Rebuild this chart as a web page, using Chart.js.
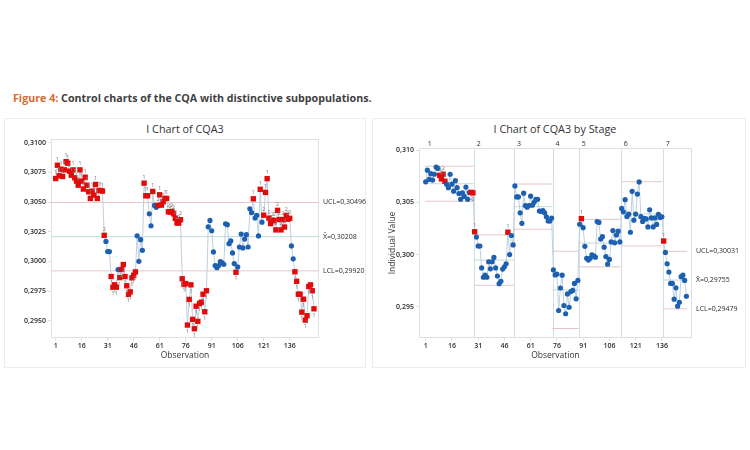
<!DOCTYPE html>
<html>
<head>
<meta charset="utf-8">
<script src="https://cdn.jsdelivr.net/npm/chart.js@4.4.1/dist/chart.umd.min.js"></script>
<style>
  html, body { margin: 0; padding: 0; background: #fff; }
  body { width: 750px; height: 450px; position: relative; overflow: hidden; font-family: 'Open Sans', sans-serif; }
  .caption { position: absolute; left: 13px; top: 91px; font-size: 10.7px; line-height: 14px; font-weight: bold; color: #3f3f3f; white-space: nowrap; }
  .caption span { color: #d8692f; }
  .panel { position: absolute; top: 118px; height: 250px; border: 1px solid #ededed; box-sizing: border-box; }
  .chart-title { position: absolute; top: 122px; width: 220px; font-size: 10.8px; line-height: 14px; color: #333; text-align: center; white-space: nowrap; }
  .box { position: absolute; top: 112px; height: 258px; }
</style>
</head>
<body>
<div class="caption"><span>Figure 4:</span> Control charts of the CQA with distinctive subpopulations.</div>
<div class="panel" style="left:4px;width:362px"></div>
<div class="panel" style="left:372px;width:374px"></div>
<div class="chart-title" style="left:75px">I Chart of CQA3</div>
<div class="chart-title" style="left:445px">I Chart of CQA3 by Stage</div>
<div class="box" style="left:0;width:372px"><canvas id="chartAll"></canvas></div>
<div class="box" style="left:372px;width:378px"><canvas id="chartStage"></canvas></div>

<script>
  'use strict';

  // ---- dữ liệu ----
  var stage1 = [0.30698, 0.30810, 0.30721, 0.30777, 0.30715, 0.30771, 0.30840, 0.30827, 0.30760, 0.30726,
                0.30771, 0.30704, 0.30676, 0.30642, 0.30771, 0.30676, 0.30609, 0.30709, 0.30642, 0.30586,
                0.30530, 0.30592, 0.30558, 0.30648, 0.30530, 0.30597, 0.30597, 0.30592];
  var stage2 = [0.30219, 0.30168, 0.30082, 0.30082, 0.29872, 0.29782, 0.29802, 0.29782, 0.29931, 0.29863,
                0.29931, 0.29973, 0.29872, 0.29794, 0.29721, 0.29743, 0.29861, 0.29883, 0.29911, 0.30215,
                0.30000, 0.30183, 0.30093];
  var stage3 = [0.30659, 0.30553, 0.30553, 0.30401, 0.30300, 0.30589, 0.30471, 0.30455, 0.30471, 0.30561,
                0.30474, 0.30502, 0.30530, 0.30530, 0.30418, 0.30415, 0.30421, 0.30401, 0.30362, 0.30323,
                0.30323, 0.30351];
  var stage4 = [0.29853, 0.29805, 0.29813, 0.29463, 0.29679, 0.29802, 0.29511, 0.29432, 0.29622, 0.29494,
                0.29645, 0.29656, 0.29723, 0.29575, 0.29752];
  var stage5 = [0.30291, 0.30345, 0.30258, 0.30079, 0.29964, 0.29947, 0.29964, 0.29998, 0.29987, 0.29975,
                0.30317, 0.30309, 0.30149, 0.30172, 0.30071, 0.29981, 0.29908, 0.29953, 0.30121, 0.30230,
                0.30113, 0.30188, 0.30225, 0.30121];
  var stage6 = [0.30443, 0.30410, 0.30527, 0.30365, 0.30388, 0.30214, 0.30607, 0.30330, 0.30389, 0.30581,
                0.30697, 0.30364, 0.30318, 0.30348, 0.30342, 0.30265, 0.30430, 0.30352, 0.30265, 0.30352,
                0.30289, 0.30387, 0.30355, 0.30363];
  var stage7 = [0.30130, 0.30021, 0.29912, 0.29832, 0.29723, 0.29723, 0.29572, 0.29681, 0.29505, 0.29542,
                0.29788, 0.29802, 0.29752, 0.29600];

  var stageNames = ['1', '2', '3', '4', '5', '6', '7'];
  var stageUcl  = [0.30848, 0.30189, 0.30677, 0.30032, 0.30338, 0.30699, 0.30031];
  var stageMean = [0.30680, 0.29947, 0.30460, 0.29661, 0.30110, 0.30391, 0.29755];
  var stageLcl  = [0.30512, 0.29705, 0.30243, 0.29290, 0.29882, 0.30083, 0.29479];

  var allUcl = 0.30496;
  var allMean = 0.30208;
  var allLcl = 0.29920;

  var xTicks = [1, 16, 31, 46, 61, 76, 91, 106, 121, 136];
  var yTicksAll = [0.2950, 0.2975, 0.3000, 0.3025, 0.3050, 0.3075, 0.3100];
  var yTicksStage = [0.295, 0.300, 0.305, 0.310];

  // ---- ghép chuỗi ----
  var stages = [stage1, stage2, stage3, stage4, stage5, stage6, stage7];
  var values = [];
  var stageOf = [];
  var stageStart = [];
  stages.forEach(function (s, k) {
    stageStart.push(values.length + 1);
    s.forEach(function (v) { values.push(v); stageOf.push(k); });
  });

  var RED = '#e00b0b';
  var BLUE = '#1d5fb0';
  var LINK = '#b6cbdd';
  var LIMIT = '#e6c6c9';
  var CENTER = '#bfdcd8';
  var FRAME = '#dbe1e7';
  var TEXT = '#2b2b2b';

  function comma(v, d) { return v.toFixed(d).replace('.', ','); }

  // Test 1: ngoài giới hạn; Test 2: 9 điểm liên tiếp cùng phía đường tâm
  function runTests(ucl, mean, lcl, group) {
    var flags = [];
    var run = 0, side = 0;
    values.forEach(function (v, i) {
      var s = v > mean[i] ? 1 : (v < mean[i] ? -1 : 0);
      if (i > 0 && group[i] !== group[i - 1]) { run = 0; side = 0; }
      run = (s !== 0 && s === side) ? run + 1 : 1;
      side = s;
      if (v > ucl[i] || v < lcl[i]) flags.push('1');
      else if (run >= 9) flags.push('2');
      else flags.push('');
    });
    return flags;
  }

  var ones = values.map(function () { return 0; });
  var allFlags = runTests(values.map(function () { return allUcl; }),
                          values.map(function () { return allMean; }),
                          values.map(function () { return allLcl; }), ones);
  var stageFlags = runTests(stageOf.map(function (k) { return stageUcl[k]; }),
                            stageOf.map(function (k) { return stageMean[k]; }),
                            stageOf.map(function (k) { return stageLcl[k]; }), stageOf);

  var points = values.map(function (v, i) { return { x: i + 1, y: v }; });

  function seriesDataset(flags) {
    return {
      data: points,
      showLine: true,
      borderColor: LINK,
      borderWidth: 0.9,
      pointStyle: function (c) { return flags[c.dataIndex] ? 'rect' : 'circle'; },
      pointRadius: function (c) { return flags[c.dataIndex] ? 3.8 : 2.6; },
      pointBackgroundColor: function (c) { return flags[c.dataIndex] ? RED : BLUE; },
      pointBorderWidth: 0,
      pointHoverRadius: 0,
      order: 0
    };
  }

  function flatLine(y, x0, x1, color) {
    return {
      data: [{ x: x0, y: y }, { x: x1, y: y }],
      showLine: true, borderColor: color, borderWidth: 1,
      pointRadius: 0, order: 2
    };
  }

  function stageLine(limits, color) {
    var data = [];
    stages.forEach(function (s, k) {
      var a = stageStart[k] - 0.5;
      var b = stageStart[k] + s.length - 0.5;
      data.push({ x: a, y: limits[k] }, { x: b, y: limits[k] }, { x: b, y: null });
    });
    return { data: data, showLine: true, spanGaps: false, borderColor: color, borderWidth: 1, pointRadius: 0, order: 2 };
  }

  function axisX(min, max) {
    return {
      type: 'linear', min: min, max: max,
      afterBuildTicks: function (scale) { scale.ticks = xTicks.map(function (v) { return { value: v }; }); },
      afterFit: function (scale) { scale.height = 28; },
      grid: { drawOnChartArea: false, drawTicks: true, tickLength: 3, color: FRAME },
      border: { display: false },
      ticks: { color: TEXT, padding: 1, maxRotation: 0, font: { size: 7, weight: '600' } },
      title: { display: true, text: 'Observation', color: '#333', font: { size: 8.5 }, padding: { top: 0, bottom: 5 } }
    };
  }

  function axisY(min, max, ticks, digits, width, title) {
    return {
      type: 'linear', min: min, max: max,
      afterBuildTicks: function (scale) { scale.ticks = ticks.map(function (v) { return { value: v }; }); },
      afterFit: function (scale) { scale.width = width; },
      grid: { drawOnChartArea: false, drawTicks: true, tickLength: 3, color: FRAME },
      border: { display: false },
      ticks: {
        color: TEXT, padding: 2, font: { size: 7, weight: '600' },
        callback: function (v) { return comma(v, digits); }
      },
      title: title ? { display: true, text: title, color: '#333', font: { size: 8.5 }, padding: { top: 11, bottom: 0 } } : { display: false }
    };
  }

  // khung, nhãn giới hạn, nhãn test, giai đoạn
  function extrasPlugin(flags, centerOf, limitLabels, withStages) {
    return {
      id: 'extras',
      beforeDatasetsDraw: function (chart) {
        var a = chart.chartArea, ctx = chart.ctx, xs = chart.scales.x;
        ctx.save();
        ctx.strokeStyle = FRAME;
        ctx.lineWidth = 1;
        ctx.strokeRect(a.left + 0.5, a.top + 0.5, a.right - a.left - 1, a.bottom - a.top - 1);
        if (withStages) {
          ctx.strokeStyle = '#d3dee8';
          stageStart.slice(1).forEach(function (s) {
            var px = Math.round(xs.getPixelForValue(s - 0.5)) + 0.5;
            ctx.beginPath(); ctx.moveTo(px, a.top); ctx.lineTo(px, a.bottom); ctx.stroke();
          });
        }
        ctx.restore();
      },
      afterDatasetsDraw: function (chart) {
        var meta = chart.getDatasetMeta(0), ctx = chart.ctx;
        ctx.save();
        ctx.font = '6px "Open Sans"';
        ctx.fillStyle = '#858585';
        ctx.textAlign = 'center';
        meta.data.forEach(function (pt, i) {
          if (!flags[i]) return;
          var above = values[i] >= centerOf(i);
          ctx.textBaseline = above ? 'bottom' : 'top';
          ctx.fillText(flags[i], pt.x, above ? pt.y - 3.2 : pt.y + 3.2);
        });
        ctx.restore();
      },
      afterDraw: function (chart) {
        var a = chart.chartArea, ctx = chart.ctx, ys = chart.scales.y, xs = chart.scales.x;
        ctx.save();
        ctx.fillStyle = TEXT;
        ctx.font = '7px "Open Sans"';
        ctx.textAlign = 'left';
        ctx.textBaseline = 'middle';
        limitLabels.forEach(function (l) {
          ctx.fillText(l.text, a.right + 4, ys.getPixelForValue(l.value));
        });
        if (withStages) {
          ctx.textBaseline = 'bottom';
          stageStart.forEach(function (s, k) {
            ctx.fillText(stageNames[k], xs.getPixelForValue(s - 0.5) + 3, a.top - 1);
          });
        }
        ctx.restore();
      }
    };
  }

  Chart.defaults.font.family = "'Open Sans', sans-serif";

  // ---- biểu đồ trái ----
  new Chart(document.getElementById('chartAll').getContext('2d'), {
    type: 'scatter',
    data: {
      datasets: [
        seriesDataset(allFlags),
        flatLine(allUcl, -1.7, 152.9, LIMIT),
        flatLine(allMean, -1.7, 152.9, CENTER),
        flatLine(allLcl, -1.7, 152.9, LIMIT)
      ]
    },
    options: {
      responsive: true,
      maintainAspectRatio: false,
      animation: false,
      layout: { padding: { left: 4, right: 53, top: 27, bottom: 4 } },
      plugins: { legend: { display: false }, tooltip: { enabled: false } },
      scales: {
        x: axisX(-1.7, 152.9),
        y: axisY(0.29354, 0.31031, yTicksAll, 4, 47, null)
      }
    },
    plugins: [extrasPlugin(allFlags, function () { return allMean; }, [
      { text: 'UCL=' + comma(allUcl, 5), value: allUcl },
      { text: 'X\u0304=' + comma(allMean, 5), value: allMean },
      { text: 'LCL=' + comma(allLcl, 5), value: allLcl }
    ], false)]
  });

  // ---- biểu đồ phải theo giai đoạn ----
  var last = stageNames.length - 1;
  new Chart(document.getElementById('chartStage').getContext('2d'), {
    type: 'scatter',
    data: {
      datasets: [
        seriesDataset(stageFlags),
        stageLine(stageUcl, LIMIT),
        stageLine(stageMean, CENTER),
        stageLine(stageLcl, LIMIT)
      ]
    },
    options: {
      responsive: true,
      maintainAspectRatio: false,
      animation: false,
      layout: { padding: { left: 4, right: 58, top: 36, bottom: 4 } },
      plugins: { legend: { display: false }, tooltip: { enabled: false } },
      scales: {
        x: axisX(-2.8, 153.2),
        y: axisY(0.29199, 0.31023, yTicksStage, 3, 43, 'Individual Value')
      }
    },
    plugins: [extrasPlugin(stageFlags, function (i) { return stageMean[stageOf[i]]; }, [
      { text: 'UCL=' + comma(stageUcl[last], 5), value: stageUcl[last] },
      { text: 'X\u0304=' + comma(stageMean[last], 5), value: stageMean[last] },
      { text: 'LCL=' + comma(stageLcl[last], 5), value: stageLcl[last] }
    ], true)]
  });
</script>
</body>
</html>
